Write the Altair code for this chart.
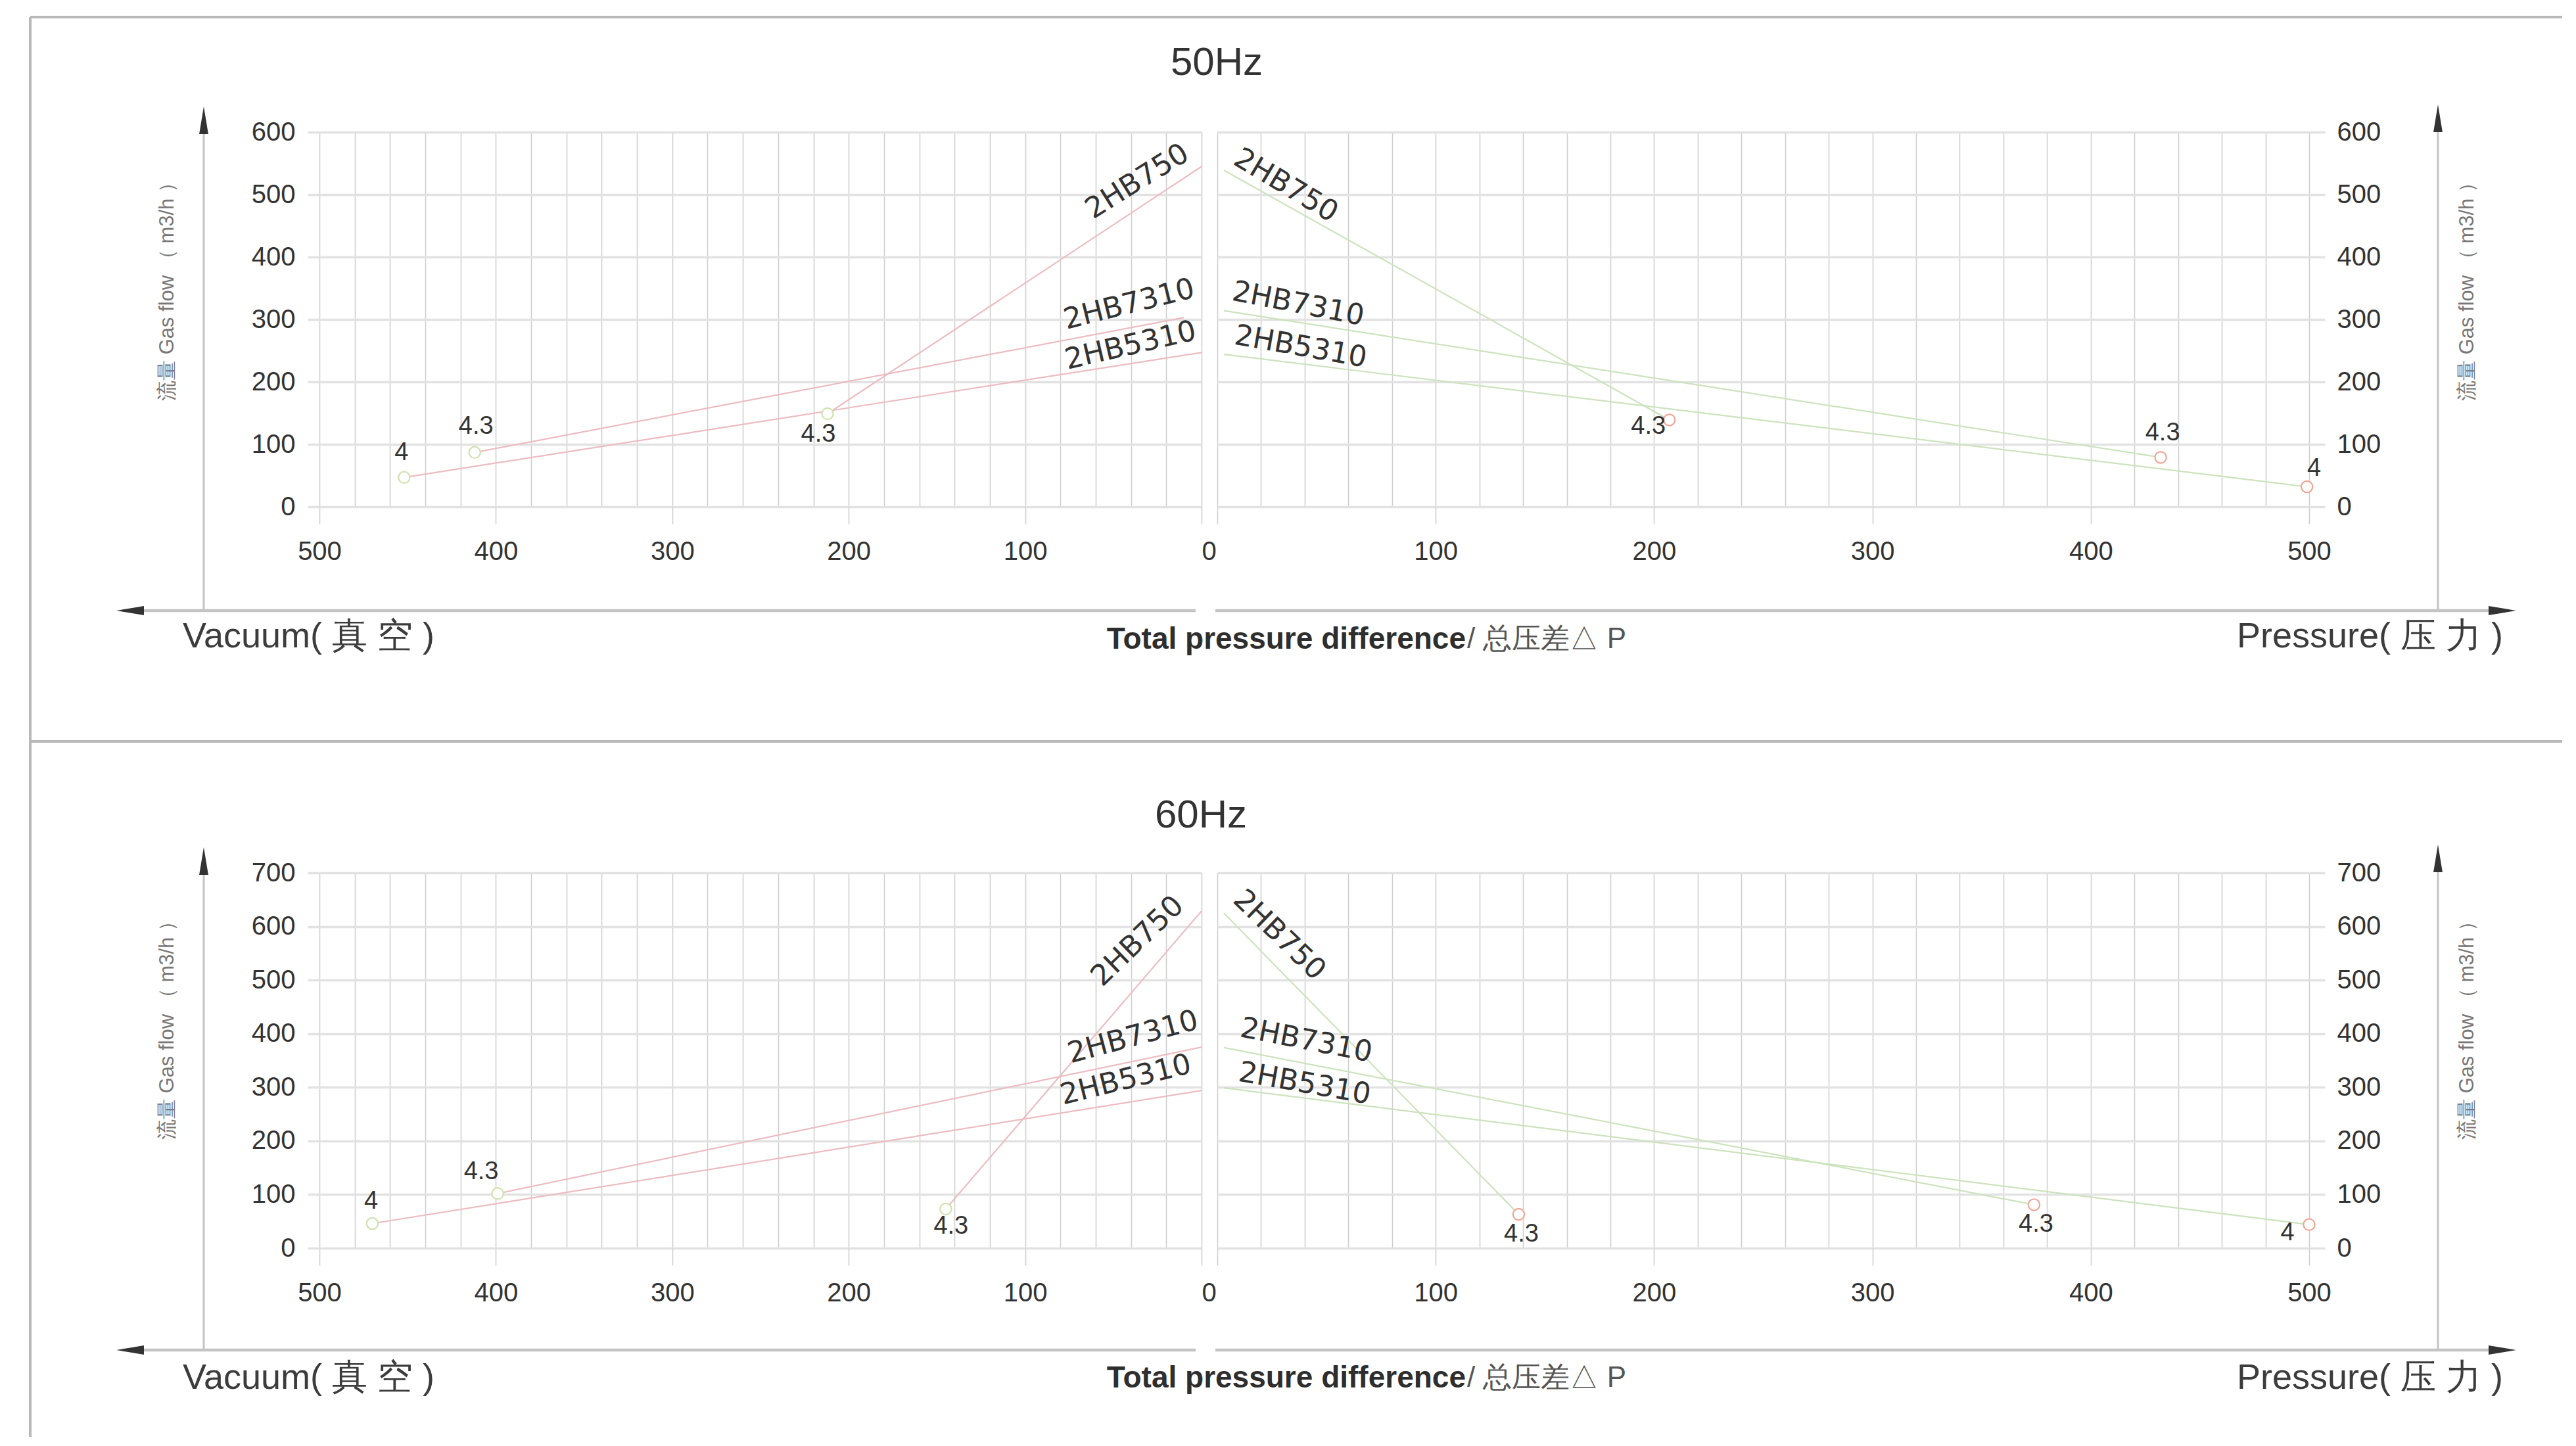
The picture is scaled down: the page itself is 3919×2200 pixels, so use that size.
import altair as alt
import pandas as pd

# ---------------- data ----------------
SERIES = ["2HB750", "2HB7310", "2HB5310"]
POINT_LABELS = ["4.3", "4.3", "4"]

# 50 Hz - vacuum side (left): end marker (pressure, flow) and line end near 0
V50_MARK_P = [212, 412, 452]
V50_MARK_Q = [149, 87, 47]
V50_END_P = [0, 10, 0]
V50_END_Q = [545, 303, 247]

# 50 Hz - pressure side (right)
P50_MARK_P = [207, 432, 499]
P50_MARK_Q = [139, 79, 32]
P50_END_P = [3, 3, 3]
P50_END_Q = [539, 314, 244]

# 60 Hz - vacuum side (left)
V60_MARK_P = [145, 399, 470]
V60_MARK_Q = [73, 102, 46]
V60_END_P = [0, 0, 0]
V60_END_Q = [629, 375, 294]

# 60 Hz - pressure side (right)
P60_MARK_P = [138, 374, 500]
P60_MARK_Q = [63, 81, 44]
P60_END_P = [3, 3, 3]
P60_END_Q = [625, 374, 299]

X_TICKS = list(range(0, 501, 20))
Y_TICKS_50 = list(range(0, 601, 100))
Y_TICKS_60 = list(range(0, 701, 100))

# ---------------- styles ----------------
FONT = "Liberation Sans"
LABEL_FONT = "DejaVu Sans"
FRAME = "#b8b8b8"
HGRID = "#e2e2e2"
VGRID = "#cfcfcf"
AXISLINE = "#c4c4c4"
ARROW = "#333333"
TXT = "#333333"
LEFT_LINE = "#ecbcc0"
RIGHT_LINE = "#cce3bd"
LEFT_MARK = "#cfe2b0"
RIGHT_MARK = "#f0a595"

W_LEFT, W_RIGHT = 1342, 1661
H50, H60 = 570, 571

ONE = pd.DataFrame({"k": [0]})


def table(mp, mq, ep, eq):
    rows = []
    for s, lab, a, b, c, d in zip(SERIES, POINT_LABELS, mp, mq, ep, eq):
        rows.append({"series": s, "p": a, "q": b, "role": "mark", "lab": lab})
        rows.append({"series": s, "p": c, "q": d, "role": "end", "lab": s})
    return pd.DataFrame(rows)


def hrule(x1, x2, y, color, w):
    return alt.Chart(ONE).mark_rule(color=color, strokeWidth=w).encode(
        x=alt.value(x1), x2=alt.value(x2), y=alt.value(y))


def vrule(x, y1, y2, color, w):
    return alt.Chart(ONE).mark_rule(color=color, strokeWidth=w).encode(
        x=alt.value(x), y=alt.value(y1), y2=alt.value(y2))


HEAD = {
    "up": "M0,-1L0.33,1L-0.33,1Z",
    "left": "M-1,0L1,-0.33L1,0.33Z",
    "right": "M1,0L-1,-0.33L-1,0.33Z",
}


def head(x, y, kind):
    return alt.Chart(ONE).mark_point(
        shape=HEAD[kind], size=1764, filled=True, color=ARROW, opacity=1, strokeWidth=0
    ).encode(x=alt.value(x), y=alt.value(y))


def text(x, y, s, size, color=TXT, align="center", angle=0, weight="normal", font=FONT):
    kw = dict(text=s, fontSize=size, color=color, align=align, baseline="middle",
              fontWeight=weight, font=font)
    if angle:
        kw["angle"] = angle
    return alt.Chart(ONE).mark_text(**kw).encode(x=alt.value(x), y=alt.value(y))


def panel(df, side, ymax, yticks, width, height, line_color, mark_color,
          pt_off, name_off, deco):
    left = side == "left"
    xscale = alt.Scale(domain=[0, 500], reverse=left, nice=False, zero=False)
    yscale = alt.Scale(domain=[0, ymax], nice=False)
    if left:
        label_expr = "datum.value % 100 === 0 ? datum.label : ''"
    else:
        # the shared "0" between the two halves is printed once
        label_expr = "datum.value % 100 === 0 && datum.value !== 0 ? datum.label : ''"
    x_axis = alt.Axis(
        values=X_TICKS, grid=True, gridColor=VGRID, gridWidth=1.6, domain=False,
        ticks=True, tickSize=26, tickColor=VGRID, tickWidth=1.6,
        tickOpacity={"condition": {"test": "datum.value % 100 === 0", "value": 1}, "value": 0},
        labelExpr=label_expr,
        labelOffset={"condition": {"test": "datum.value === 0", "value": 11 if left else 0},
                     "value": 0},
        labelFont=FONT, labelFontSize=40, labelColor=TXT, labelPadding=22,
        labelFlush=False, labelOverlap=False, title=None)
    y_axis = alt.Axis(
        values=yticks, orient=side, grid=True, gridColor=HGRID, gridWidth=3.5,
        domain=False, ticks=True, tickSize=18 if left else 24, tickColor=HGRID,
        tickWidth=3.5, labelFont=FONT, labelFontSize=40, labelColor=TXT,
        labelPadding=19 if left else 18, labelFlush=False, title=None)
    ex = alt.X("p:Q", scale=xscale, axis=x_axis)
    ey = alt.Y("q:Q", scale=yscale, axis=y_axis)
    base = alt.Chart(df)

    layers = []
    layers.append(base.mark_line(color=line_color, strokeWidth=2.2).encode(
        x=ex, y=ey, detail="series:N", order="p:Q"))
    layers.append(base.transform_filter(alt.datum.role == "mark").mark_point(
        shape="circle", size=300, filled=True, fill="white", stroke=mark_color,
        strokeWidth=2.2, opacity=1).encode(x=ex, y=ey))
    for s in SERIES:
        dx, dy = pt_off[s]
        layers.append(base.transform_filter(
            (alt.datum.role == "mark") & (alt.datum.series == s)).mark_text(
            dx=dx, dy=dy, fontSize=38, font=FONT, color=TXT, align="center",
            baseline="middle").encode(x=ex, y=ey, text="lab:N"))
        ang, ndx, ndy = name_off[s]
        layers.append(base.transform_filter(
            (alt.datum.role == "end") & (alt.datum.series == s)).mark_text(
            angle=ang, dx=ndx, dy=ndy, fontSize=44, font=LABEL_FONT, color=TXT,
            align="center", baseline="middle").encode(x=ex, y=ey, text="series:N"))
    layers.extend(deco)
    return alt.layer(*layers).properties(width=width, height=height)


YTITLE = "流量 Gas flow （ m3/h ）"


def deco_left(tip, axis_y, title_y, vac_y, hz, hz_x, hz_y, tot_y, frame=False):
    d = []
    if frame:
        d.append(hrule(-440, 3412, -175, FRAME, 4))
        d.append(vrule(-440, -175, 1985, FRAME, 4))
        d.append(hrule(-440, 3412, 927, FRAME, 4))
    d.append(vrule(-176, tip + 10, axis_y, AXISLINE, 3))
    d.append(head(-176, tip + 21, "up"))
    d.append(hrule(-300, 1333, axis_y, AXISLINE, 4.5))
    d.append(head(-288, axis_y, "left"))
    d.append(text(-231, title_y, YTITLE, 31, color="#777777", angle=270))
    d.append(text(-208, vac_y, "Vacuum( 真 空 )", 54, color="#3c3c3c", align="left"))
    d.append(text(hz_x, hz_y, hz, 60, color="#333333"))
    d.append(text(1744, tot_y, "Total pressure difference", 46, color="#2e2e2e",
                  align="right", weight="bold"))
    d.append(text(1746, tot_y, "/ 总压差△ P", 44, color="#555555", align="left"))
    return d


def deco_right(tip, axis_y, title_y, pr_y):
    d = []
    d.append(vrule(1857, tip + 10, axis_y, AXISLINE, 3))
    d.append(head(1857, tip + 21, "up"))
    d.append(hrule(-3, 1965, axis_y, AXISLINE, 4.5))
    d.append(head(1955, axis_y, "right"))
    d.append(text(1902, title_y, YTITLE, 31, color="#777777", angle=270))
    d.append(text(1956, pr_y, "Pressure( 压 力 )", 54, color="#3c3c3c", align="right"))
    return d


# label placements (pixels, relative to the data point)
PT_V50 = {"2HB750": (-14, 32), "2HB7310": (2, -39), "2HB5310": (-4, -37)}
PT_P50 = {"2HB750": (-32, 10), "2HB7310": (3, -37), "2HB5310": (11, -28)}
PT_V60 = {"2HB750": (8, 27), "2HB7310": (-25, -33), "2HB5310": (-2, -33)}
PT_P60 = {"2HB750": (4, 30), "2HB7310": (3, 30), "2HB5310": (-33, 13)}

NM_V50 = {"2HB750": (328, -95, -32), "2HB7310": (346, -76, -39), "2HB5310": (347, -103, -34)}
NM_P50 = {"2HB750": (31, 93, -28), "2HB7310": (11, 109, -31), "2HB5310": (10, 113, -31)}
NM_V60 = {"2HB750": (316, -102, -34), "2HB7310": (345, -97, -41), "2HB5310": (346, -108, -43)}
NM_P60 = {"2HB750": (44, 84, -34), "2HB7310": (11, 121, -34), "2HB5310": (10, 120, -27)}

tl = panel(table(V50_MARK_P, V50_MARK_Q, V50_END_P, V50_END_Q), "left", 600, Y_TICKS_50,
           W_LEFT, H50, LEFT_LINE, LEFT_MARK, PT_V50, NM_V50,
           deco_left(-39, 728, 235, 768, "50Hz", 1365, -105, 772, frame=True))
tr = panel(table(P50_MARK_P, P50_MARK_Q, P50_END_P, P50_END_Q), "right", 600, Y_TICKS_50,
           W_RIGHT, H50, RIGHT_LINE, RIGHT_MARK, PT_P50, NM_P50,
           deco_right(-42, 728, 235, 768))
bl = panel(table(V60_MARK_P, V60_MARK_Q, V60_END_P, V60_END_Q), "left", 700, Y_TICKS_60,
           W_LEFT, H60, LEFT_LINE, LEFT_MARK, PT_V60, NM_V60,
           deco_left(-39, 726, 232, 769, "60Hz", 1341, -87, 769))
br = panel(table(P60_MARK_P, P60_MARK_Q, P60_END_P, P60_END_Q), "right", 700, Y_TICKS_60,
           W_RIGHT, H60, RIGHT_LINE, RIGHT_MARK, PT_P60, NM_P60,
           deco_right(-43, 726, 232, 769))

row1 = alt.hconcat(tl, tr, spacing=24, bounds="flush")
row2 = alt.hconcat(bl, br, spacing=24, bounds="flush")

# with flush bounds the nested row counts as zero height, so the spacing is the
# full offset between the two rows' plot tops
chart = alt.vconcat(row1, row2, spacing=1127, bounds="flush").properties(
    padding={"left": 35, "top": 15, "right": 0, "bottom": 0}
).configure_view(stroke="transparent").configure(font=FONT, background="white")

chart.save("out.html", embed_options={"renderer": "svg", "actions": False})
